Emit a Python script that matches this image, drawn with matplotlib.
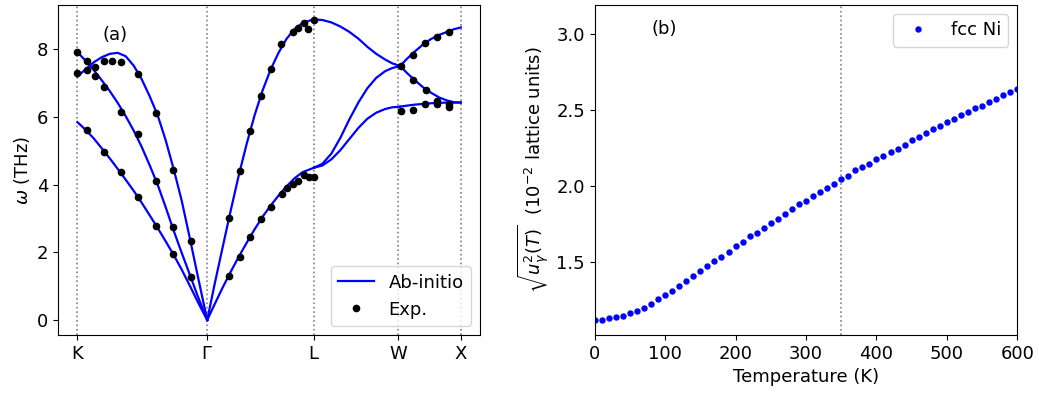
### Module import ###
import numpy as np
import matplotlib
matplotlib.use('Agg')
import matplotlib.pyplot as plt

plt.rcParams['font.size'] = 13

### high symmetry points (path length, 2pi/a units) ###
sym_labels = ['K', r'$\Gamma$', 'L', 'W', 'X']
sym_pos = [0.0, 1.061, 1.931, 2.620, 3.135]

### ab-initio branches, one x grid per segment ###
q_kg = [0.000, 0.068, 0.133, 0.198, 0.264, 0.329, 0.394, 0.460, 0.525,
        0.590, 0.656, 0.721, 0.786, 0.851, 0.917, 0.982, 1.061]
w_kg_1 = [5.85, 5.62, 5.37, 5.08, 4.78, 4.47, 4.15, 3.82, 3.47,
          3.10, 2.72, 2.33, 1.93, 1.50, 1.03, 0.55, 0.0]
w_kg_2 = [7.92, 7.66, 7.39, 7.09, 6.77, 6.42, 6.03, 5.60, 5.12,
          4.58, 4.00, 3.34, 2.65, 2.00, 1.36, 0.72, 0.0]
w_kg_3 = [7.20, 7.42, 7.62, 7.77, 7.87, 7.90, 7.80, 7.52, 7.12,
          6.62, 6.05, 5.32, 4.47, 3.55, 2.45, 1.33, 0.0]

q_gl = [1.061, 1.122, 1.187, 1.252, 1.317, 1.383, 1.448,
        1.513, 1.579, 1.644, 1.709, 1.774, 1.840, 1.931]
w_gl_ta = [0.0, 0.47, 0.96, 1.42, 1.86, 2.28, 2.68,
           3.05, 3.38, 3.68, 3.95, 4.19, 4.37, 4.50]
w_gl_la = [0.0, 1.07, 2.15, 3.22, 4.25, 5.20, 6.05,
           6.78, 7.40, 7.90, 8.31, 8.60, 8.78, 8.89]

q_lw = [1.931, 2.003, 2.076, 2.149, 2.223, 2.297, 2.370, 2.443, 2.517, 2.574, 2.639]
w_lw_1 = [4.50, 4.57, 4.75, 5.02, 5.35, 5.68, 5.95, 6.13, 6.24, 6.29, 6.31]
w_lw_2 = [4.50, 4.62, 4.92, 5.38, 5.93, 6.43, 6.85, 7.16, 7.36, 7.45, 7.51]
w_lw_3 = [8.89, 8.87, 8.80, 8.68, 8.52, 8.32, 8.08, 7.87, 7.70, 7.59, 7.51]

q_wx = [2.639, 2.696, 2.762, 2.827, 2.892, 2.958, 3.023, 3.080, 3.135]
w_wx_1 = [6.31, 6.34, 6.37, 6.39, 6.41, 6.42, 6.43, 6.43, 6.43]
w_wx_2 = [7.51, 7.30, 7.08, 6.88, 6.72, 6.58, 6.49, 6.44, 6.43]
w_wx_3 = [7.51, 7.73, 7.95, 8.15, 8.31, 8.43, 8.52, 8.60, 8.65]

### experimental points ###
q_exp = [0.0, 0.0, 0.076, 0.076, 0.141, 0.141, 0.217, 0.217, 0.286, 0.353, 0.353,
         0.498, 0.498, 0.076, 0.217, 0.353, 0.498, 0.645, 0.645, 0.645, 0.780,
         0.780, 0.780, 0.925, 0.925,
         1.238, 1.238, 1.325, 1.325, 1.409, 1.409, 1.497, 1.497, 1.584, 1.584,
         1.665, 1.673, 1.714, 1.760, 1.760, 1.801, 1.801, 1.850, 1.850, 1.886,
         1.891, 1.931, 1.931,
         2.645, 2.740, 2.838, 2.944, 3.042, 2.740, 2.849, 2.645, 2.740, 2.838,
         2.944, 2.944, 3.042, 3.042]
w_exp = [7.93, 7.29, 7.66, 7.39, 7.47, 7.21, 7.66, 6.88, 7.66, 7.63, 6.16,
         7.27, 5.50, 5.61, 4.97, 4.38, 3.64, 6.11, 4.12, 2.79, 4.45,
         2.76, 1.95, 2.33, 1.28,
         3.03, 1.31, 4.42, 1.87, 5.59, 2.46, 6.61, 3.00, 7.42, 3.35,
         8.15, 3.74, 3.90, 8.51, 4.03, 8.62, 4.12, 8.79, 4.28, 8.59,
         4.23, 8.87, 4.23,
         7.51, 7.85, 8.18, 8.37, 8.52, 7.11, 6.80, 6.18, 6.21, 6.40,
         6.48, 6.38, 6.40, 6.30]

### mean square displacement vs temperature ###
temp = np.arange(0, 601, 10)
u_rms = [1.115, 1.115, 1.127, 1.133, 1.142, 1.160, 1.173, 1.197, 1.221, 1.252,
         1.282, 1.307, 1.338, 1.375, 1.406, 1.441, 1.472, 1.503, 1.533, 1.566,
         1.604, 1.628, 1.668, 1.689, 1.720, 1.755, 1.784, 1.817, 1.848, 1.880,
         1.902, 1.935, 1.960, 1.988, 2.013, 2.044, 2.067, 2.102, 2.122, 2.144,
         2.175, 2.199, 2.222, 2.245, 2.270, 2.300, 2.325, 2.349, 2.378, 2.398,
         2.422, 2.441, 2.468, 2.490, 2.514, 2.527, 2.554, 2.576, 2.600, 2.622,
         2.640]
t_mark = 350

### figure ###
fig = plt.figure(figsize=(10.39, 3.95), dpi=100)
ax1 = fig.add_axes([0.0561, 0.152, 0.4059, 0.835])
ax2 = fig.add_axes([0.5724, 0.152, 0.4067, 0.835])

### panel (a) ###
for p in sym_pos:
    ax1.axvline(p, color='gray', ls=':', lw=1.2, zorder=0)
branches = [(q_kg, w_kg_1), (q_kg, w_kg_2), (q_kg, w_kg_3),
            (q_gl, w_gl_ta), (q_gl, w_gl_la),
            (q_lw, w_lw_1), (q_lw, w_lw_2), (q_lw, w_lw_3),
            (q_wx, w_wx_1), (q_wx, w_wx_2), (q_wx, w_wx_3)]
for i, (q, w) in enumerate(branches):
    ax1.plot(q, w, '-', color='b', lw=1.6, label='Ab-initio' if i == 0 else None)
ax1.plot(q_exp, w_exp, 'o', color='k', ms=4.5, label='Exp.')
ax1.set_xticks(sym_pos)
ax1.set_xticklabels(sym_labels)
ax1.set_xlim(-0.157, 3.292)
ax1.set_ylim(-0.44, 9.31)
ax1.set_yticks([0, 2, 4, 6, 8])
ax1.set_ylabel(r'$\omega$ (THz)')
ax1.text(0.305, 8.42, '(a)', ha='center', va='center')
ax1.legend(loc='lower right')

### panel (b) ###
ax2.axvline(t_mark, color='gray', ls=':', lw=1.2, zorder=0)
ax2.plot(temp, u_rms, 'o', color='b', ms=3.6, label='fcc Ni')
ax2.set_xlim(0, 600)
ax2.set_ylim(1.016, 3.193)
ax2.set_yticks([1.5, 2.0, 2.5, 3.0])
ax2.set_xlabel('Temperature (K)')
ax2.set_ylabel(r'$\sqrt{u_\gamma^2(T)}$  (10$^{-2}$ lattice units)')
ax2.text(99, 3.035, '(b)', ha='center', va='center')
ax2.legend(loc='upper right')

### image output ###
plt.savefig('out.png', dpi=100)
